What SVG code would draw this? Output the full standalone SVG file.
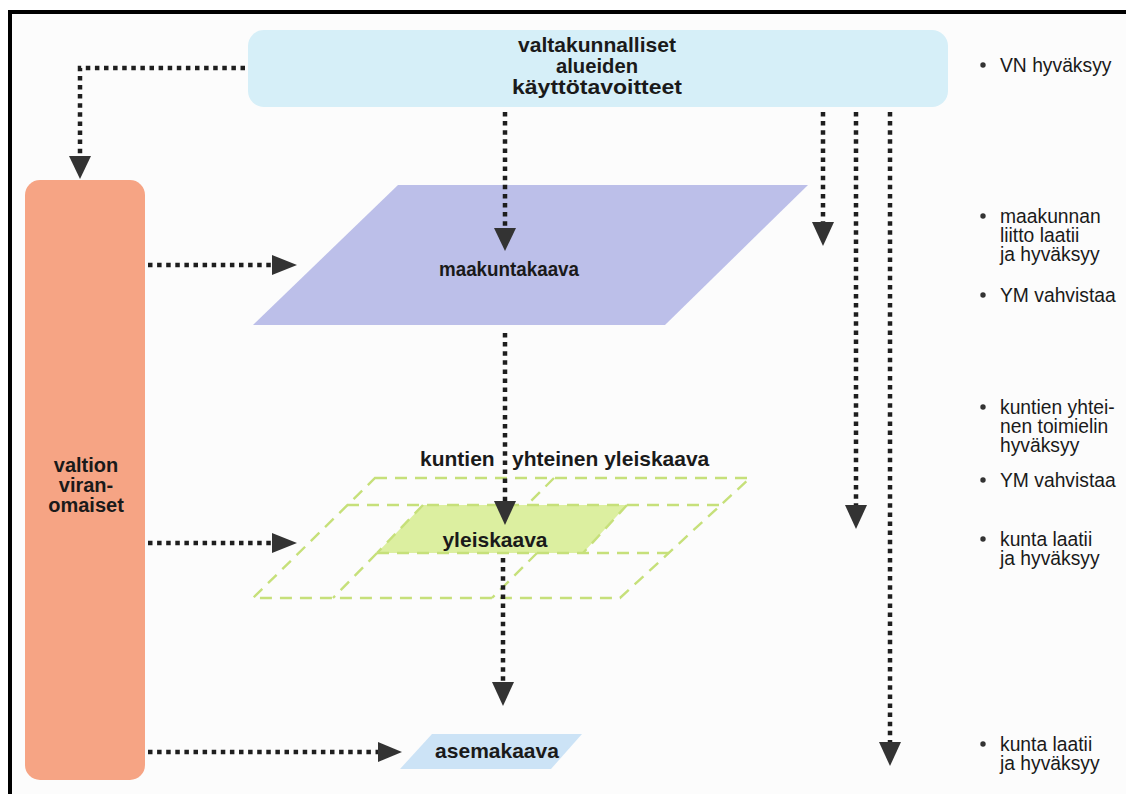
<svg xmlns="http://www.w3.org/2000/svg" width="1126" height="794" viewBox="0 0 1126 794">
  <defs>
    <style>
      .dot { fill: none; stroke: #1e1e1e; stroke-width: 4.5; stroke-dasharray: 4.5 4.6; }
      .head { fill: #333333; }
      .lbl { font-family: "Liberation Sans", Arial, sans-serif; font-weight: bold; font-size: 21px; fill: #1a1a1a; text-anchor: middle; }
      .side { font-family: "Liberation Sans", Arial, sans-serif; font-size: 19.3px; fill: #1a1a1a; }
      .dash { fill: none; stroke: #c6e07a; stroke-width: 2.4; stroke-dasharray: 12 8; }
    </style>
  </defs>

  <!-- page -->
  <rect x="0" y="0" width="1126" height="794" fill="#ffffff"/>
  <rect x="10" y="12" width="1116" height="782" fill="#fcfcfc"/>
  <path d="M10 794 V12 H1126" fill="none" stroke="#000" stroke-width="4"/>

  <!-- national goals -->
  <g id="node-valtakunnalliset">
    <rect x="248" y="30" width="700" height="77" rx="16" fill="#d6eff8"/>
    <text class="lbl" x="597" y="52" textLength="158" lengthAdjust="spacingAndGlyphs">valtakunnalliset</text>
    <text class="lbl" x="597" y="73" textLength="82" lengthAdjust="spacingAndGlyphs">alueiden</text>
    <text class="lbl" x="597" y="94" textLength="170" lengthAdjust="spacingAndGlyphs">käyttötavoitteet</text>
  </g>

  <!-- state authorities -->
  <g id="node-valtion">
    <rect x="25" y="180" width="120" height="600" rx="15" fill="#f6a484"/>
    <text class="lbl" style="font-size:20px" x="86" y="472">valtion</text>
    <text class="lbl" style="font-size:20px" x="86" y="492">viran-</text>
    <text class="lbl" style="font-size:20px" x="86" y="512">omaiset</text>
  </g>

  <!-- regional plan -->
  <g id="node-maakuntakaava">
    <polygon points="398,185 808,185 665,325 253,325" fill="#bcbfe9"/>
    <text class="lbl" x="509" y="276" textLength="140" lengthAdjust="spacingAndGlyphs">maakuntakaava</text>
  </g>

  <!-- joint and local master plans -->
  <g id="node-yleiskaava">
    <text class="lbl" x="420" y="466" style="text-anchor:start">kuntien</text>
    <text class="lbl" x="512" y="466" style="text-anchor:start">yhteinen yleiskaava</text>
    <polygon points="423,505 627,505 583,553 377,553" fill="#dcefa0"/>
    <polygon class="dash" points="375,478 750,478 620,598 253,598"/>
    <line class="dash" x1="347" y1="505" x2="721" y2="505"/>
    <line class="dash" x1="377" y1="553" x2="669" y2="553"/>
    <line class="dash" x1="423" y1="505" x2="377" y2="553"/>
    <line class="dash" x1="627" y1="505" x2="583" y2="553"/>
    <line class="dash" x1="554" y1="478" x2="527" y2="505"/>
    <line class="dash" x1="377" y1="553" x2="333" y2="598"/>
    <line class="dash" x1="537" y1="553" x2="492" y2="598"/>
    <text class="lbl" x="495" y="547">yleiskaava</text>
  </g>

  <!-- detailed plan -->
  <g id="node-asemakaava">
    <polygon points="432,734 582,734 551,769 400,769" fill="#cce3f6"/>
    <text class="lbl" x="497" y="758">asemakaava</text>
  </g>

  <!-- approval notes -->
  <g id="notes" class="side">
    <circle cx="983" cy="65" r="2.7" fill="#333"/>
    <text x="1000" y="72">VN hyväksyy</text>
    <circle cx="983" cy="216" r="2.7" fill="#333"/>
    <text x="1000" y="223">maakunnan</text>
    <text x="1000" y="242">liitto laatii</text>
    <text x="1000" y="261">ja hyväksyy</text>
    <circle cx="983" cy="295" r="2.7" fill="#333"/>
    <text x="1000" y="302">YM vahvistaa</text>
    <circle cx="983" cy="407" r="2.7" fill="#333"/>
    <text x="1000" y="414">kuntien yhtei-</text>
    <text x="1000" y="433">nen toimielin</text>
    <text x="1000" y="452">hyväksyy</text>
    <circle cx="983" cy="480" r="2.7" fill="#333"/>
    <text x="1000" y="487">YM vahvistaa</text>
    <circle cx="983" cy="539" r="2.7" fill="#333"/>
    <text x="1000" y="546">kunta laatii</text>
    <text x="1000" y="565">ja hyväksyy</text>
    <circle cx="983" cy="744" r="2.7" fill="#333"/>
    <text x="1000" y="751">kunta laatii</text>
    <text x="1000" y="770">ja hyväksyy</text>
  </g>

  <!-- connectors -->
  <g id="connectors">
    <path class="dot" d="M245 68 H80 V156"/>
    <polygon class="head" points="69,156 91,156 80,179"/>

    <line class="dot" x1="505" y1="112" x2="505" y2="228"/>
    <polygon class="head" points="494,228 516,228 505,251"/>
    <line class="dot" x1="505" y1="333" x2="505" y2="501"/>
    <polygon class="head" points="494,501 516,501 505,525"/>
    <line class="dot" x1="503" y1="558" x2="503" y2="682"/>
    <polygon class="head" points="492,682 514,682 503,706"/>

    <line class="dot" x1="823" y1="112" x2="823" y2="222"/>
    <polygon class="head" points="812,222 834,222 823,246"/>
    <line class="dot" x1="856" y1="112" x2="856" y2="505"/>
    <polygon class="head" points="845,505 867,505 856,529"/>
    <line class="dot" x1="890" y1="112" x2="890" y2="742"/>
    <polygon class="head" points="879,742 901,742 890,766"/>

    <line class="dot" x1="148" y1="265" x2="272" y2="265"/>
    <polygon class="head" points="272,255 272,275 297,265"/>
    <line class="dot" x1="148" y1="543" x2="272" y2="543"/>
    <polygon class="head" points="272,533 272,553 297,543"/>
    <line class="dot" x1="148" y1="752" x2="378" y2="752"/>
    <polygon class="head" points="378,742 378,762 402,752"/>
  </g>
</svg>
